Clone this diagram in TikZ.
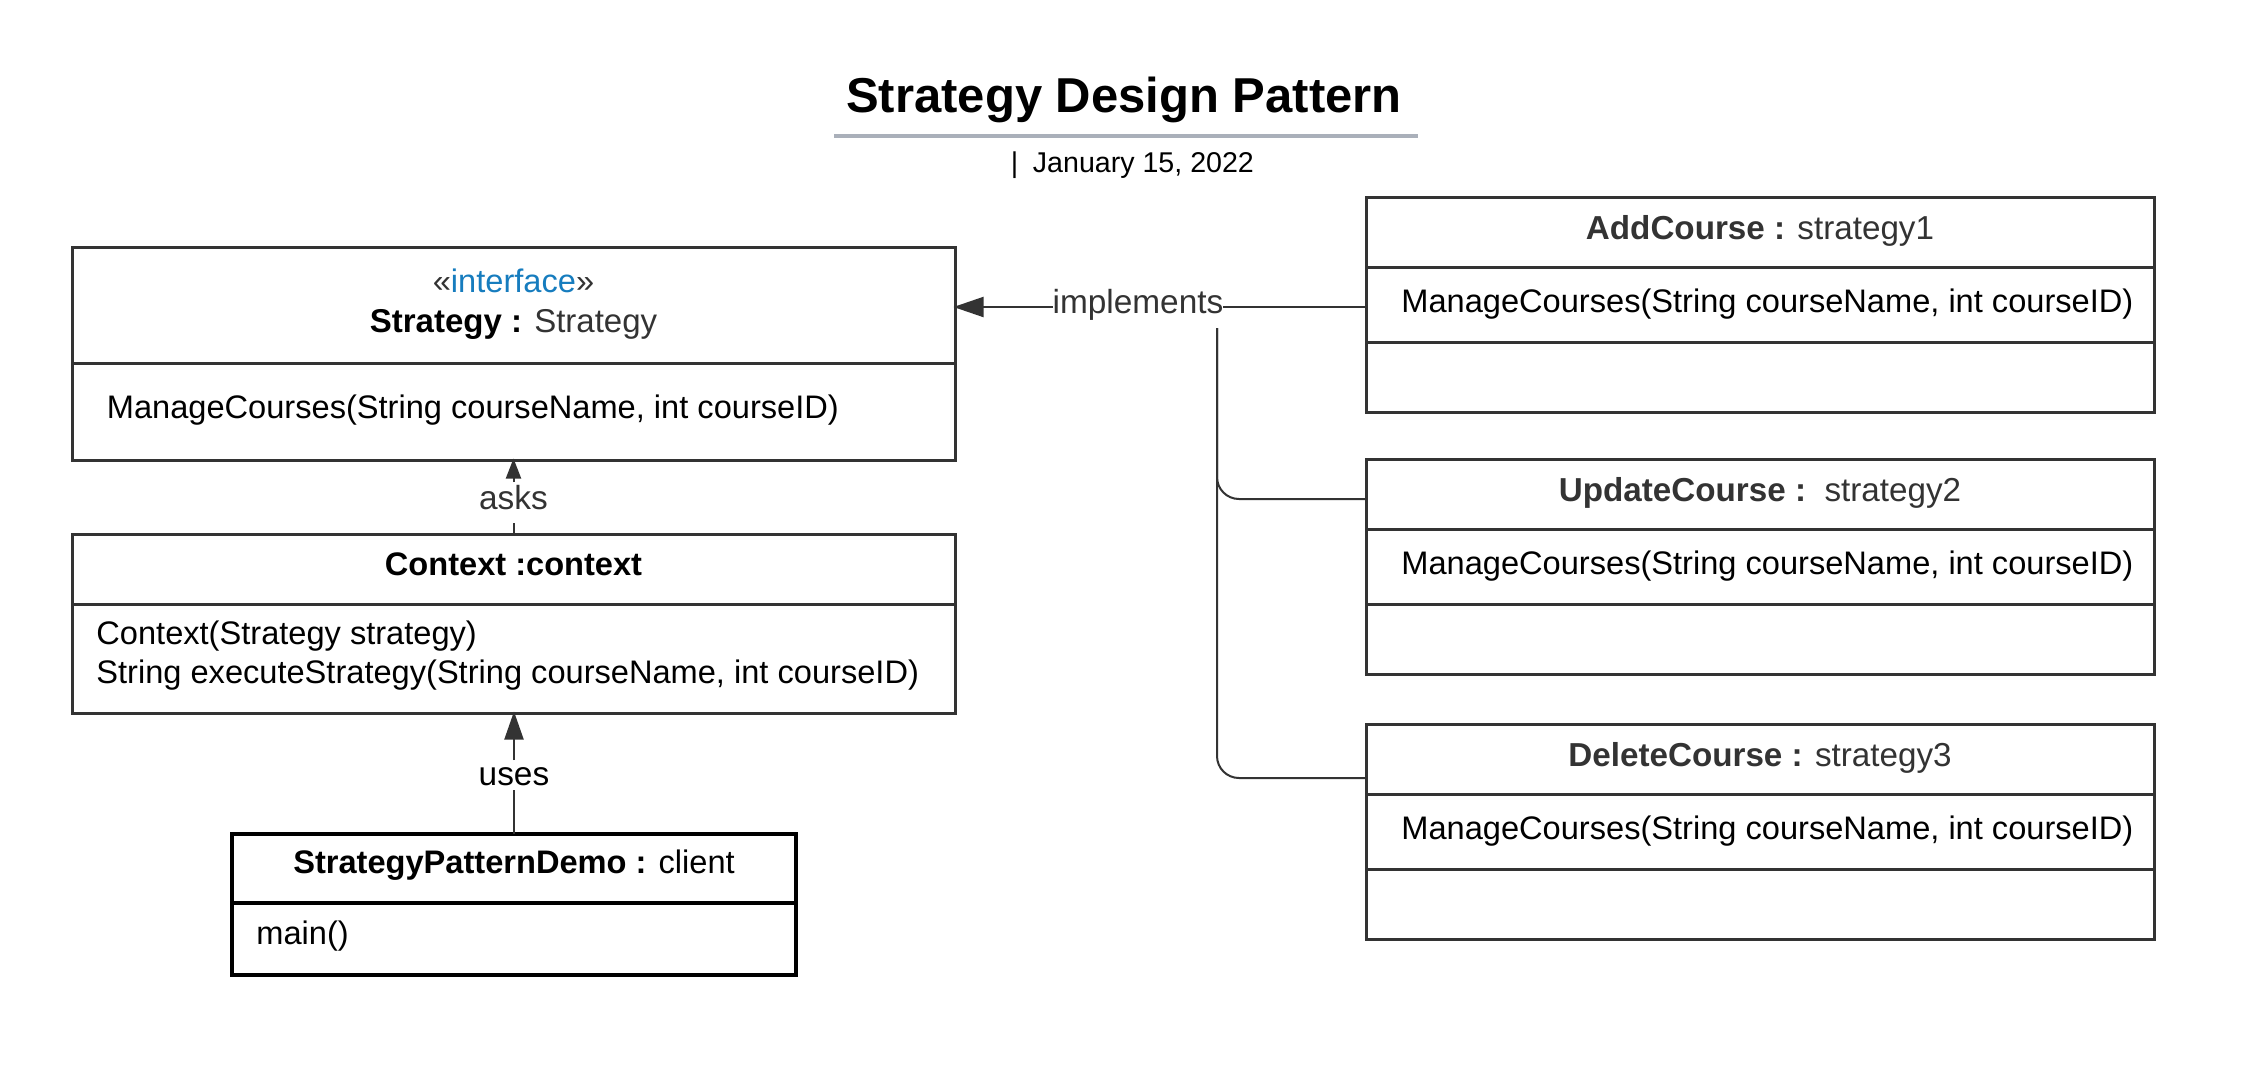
\documentclass[tikz,border=0pt]{standalone}
\usepackage{fontspec}
\setmainfont{Liberation Sans}
\usetikzlibrary{arrows.meta,calc}
\definecolor{dk}{RGB}{51,51,51}
\definecolor{ifblue}{RGB}{22,124,190}
\definecolor{uline}{RGB}{170,176,186}
\begin{document}
\begin{tikzpicture}[x=0.5pt,y=-0.5pt,
  classbox/.style={draw=dk, line width=1.5pt, inner sep=0pt, outer sep=0pt, anchor=north west},
  clientbox/.style={draw=black, line width=1.75pt, inner sep=0pt, outer sep=0pt, anchor=north west},
  divider/.style={draw=dk, line width=1.5pt},
  cdivider/.style={draw=black, line width=1.75pt},
  body/.style={inner sep=0pt, font=\fontsize{16.3}{19.5}\selectfont},
  head/.style={inner sep=0pt, font=\fontsize{16.6}{20}\selectfont},
  lbl/.style={inner sep=0pt, outer sep=0pt, fill=white, font=\fontsize{16.7}{20}\selectfont, text=dk},
  conn/.style={draw=dk, line width=1pt},
]
\useasboundingbox (0,0) rectangle (2256,1082);

% heading
\node[anchor=base, inner sep=0pt, font=\bfseries\fontsize{24.5}{29}\selectfont] (title) at (1124,112) {Strategy Design Pattern};
\draw[uline, line width=2pt] (834,135.5) -- (1418,135.5);
\node[anchor=base west, inner sep=0pt, font=\fontsize{14.3}{17}\selectfont] (date) at (1010.5,172) {|\hspace{0.51em}January 15, 2022};

% Strategy interface
\node[classbox, minimum width=441.5pt, minimum height=106.5pt] (strat) at (72,247) {};
\draw[divider] ($(strat.north west)+(0,116)$) -- ($(strat.north east)+(0,116)$);
\node[body, anchor=base] (iface) at (513.5,292) {\textcolor{dk}{«}\textcolor{ifblue}{interface}\textcolor{dk}{»}};
\node[inner sep=0pt, font=\fontsize{16.5}{20}\selectfont, anchor=base] (stratname) at (513.5,332) {\textbf{Strategy :} \textcolor{dk}{Strategy}};
\node[body, anchor=base west] (stratop) at (106.5,418) {ManageCourses(String courseName, int courseID)};

% Context
\node[classbox, minimum width=441.5pt, minimum height=89.5pt] (ctx) at (72,534) {};
\draw[divider] ($(ctx.north west)+(0,70)$) -- ($(ctx.north east)+(0,70)$);
\node[body, anchor=base] (ctxname) at (513.5,575.5) {\textbf{Context :context}};
\node[body, anchor=base west] (ctxop1) at (96,644) {Context(Strategy strategy)};
\node[body, anchor=base west] (ctxop2) at (96,683) {String executeStrategy(String courseName, int courseID)};

% Client
\node[clientbox, minimum width=282pt, minimum height=70.5pt] (client) at (232,834) {};
\draw[cdivider] ($(client.north west)+(0,69)$) -- ($(client.north east)+(0,69)$);
\node[body, anchor=base] (clientname) at (514,873.5) {\textbf{StrategyPatternDemo :} client};
\node[body, anchor=base west] (clientop) at (256,944.5) {main()};

% Concrete strategies
\node[classbox, minimum width=394pt, minimum height=107.5pt] (add) at (1366,197) {};
\node[classbox, minimum width=394pt, minimum height=107.5pt] (upd) at (1366,459) {};
\node[classbox, minimum width=394pt, minimum height=107.5pt] (del) at (1366,724) {};
\foreach \b in {add,upd,del}{
  \draw[divider] ($(\b.north west)+(0,70)$) -- ($(\b.north east)+(0,70)$);
  \draw[divider] ($(\b.north west)+(0,145)$) -- ($(\b.north east)+(0,145)$);
}
\node[head, anchor=base, text=dk] (addname) at (1760,239) {\textbf{AddCourse :} strategy1};
\node[body, anchor=base west] (addop) at (1401,312) {ManageCourses(String courseName, int courseID)};
\node[head, anchor=base, text=dk] (updname) at (1760,501) {\textbf{UpdateCourse :}\ \ strategy2};
\node[body, anchor=base west] (updop) at (1401,574) {ManageCourses(String courseName, int courseID)};
\node[head, anchor=base, text=dk] (delname) at (1760,766) {\textbf{DeleteCourse :} strategy3};
\node[body, anchor=base west] (delop) at (1401,839) {ManageCourses(String courseName, int courseID)};

% connectors
\node[lbl, anchor=base, text height=13.5pt, text depth=7.5pt] (impl) at (1138,313) {implements};
\draw[conn, shorten >=-0.75pt, -{Triangle[length=15pt,width=10pt]}] (impl.west) -- (impl.west -| strat.east);
\draw[conn] (impl.east) -- (impl.east -| add.west);
\coordinate (trunk) at (1217,0);
\draw[conn, rounded corners=11pt] (impl.south -| trunk) |- ($(upd.north west)+(0,40)$);
\draw[conn, rounded corners=11pt] (impl.south -| trunk) |- ($(del.north west)+(0,54)$);

\node[lbl, anchor=base, text height=13.5pt, text depth=7pt] (asks) at (513.5,509) {asks};
\draw[conn, shorten >=-0.75pt, -{Triangle[length=10pt,width=7.5pt]}] (asks.north) -- (strat.south);
\draw[conn] (ctx.north) -- (asks.south);

\node[lbl, anchor=base, text=black, text height=12.5pt, text depth=2.5pt] (uses) at (514,785) {uses};
\draw[conn, shorten >=-0.75pt, -{Triangle[length=14pt,width=9.5pt]}] (uses.north) -- (ctx.south -| uses.north);
\draw[conn] (client.north) -- (uses.south);
\end{tikzpicture}
\end{document}
